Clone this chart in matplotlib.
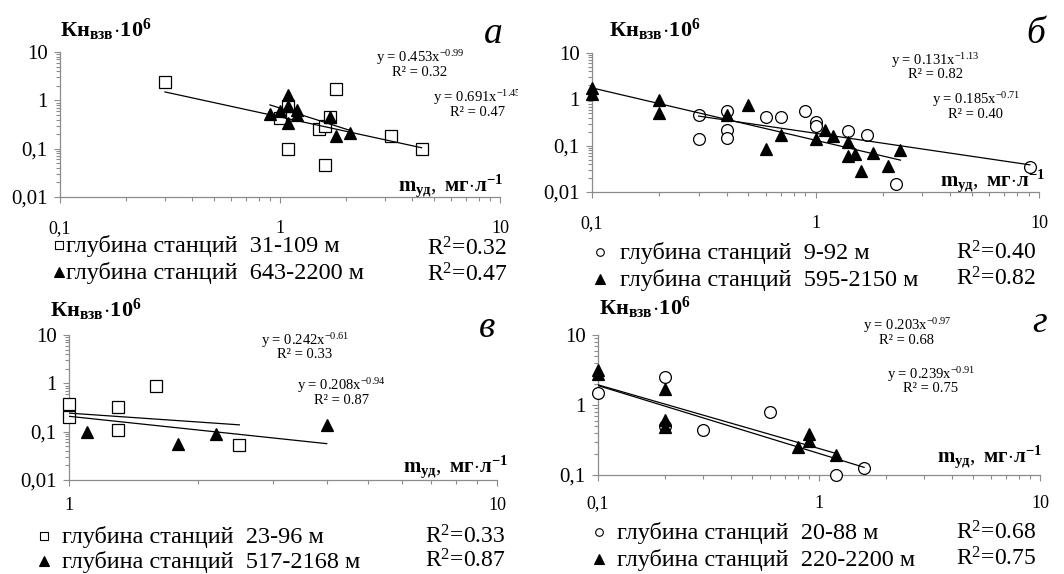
import numpy as np
import matplotlib
matplotlib.use('Agg')
import matplotlib.pyplot as plt
from matplotlib.ticker import FuncFormatter, NullFormatter, LogLocator
from matplotlib.lines import Line2D
from matplotlib.transforms import Bbox, TransformedBbox

plt.rcParams['font.family'] = ['Liberation Serif', 'DejaVu Serif']
plt.rcParams['mathtext.fontset'] = 'custom'
plt.rcParams['mathtext.rm'] = 'Liberation Serif'
plt.rcParams['mathtext.it'] = 'Liberation Serif:italic'
plt.rcParams['mathtext.bf'] = 'Liberation Serif:bold'

# --- данные ---
# а
sq_a_x = [0.3, 1.0, 1.09, 1.09, 1.5, 1.6, 1.69, 1.8, 1.6, 3.2, 4.4]
sq_a_y = [2.4, 0.43, 0.78, 0.10, 0.25, 0.30, 0.45, 1.7, 0.046, 0.18, 0.10]
tri_a_x = [0.9, 1.0, 1.09, 1.09, 1.09, 1.2, 1.2, 1.69, 1.8, 2.08]
tri_a_y = [0.51, 0.6, 1.3, 0.77, 0.34, 0.62, 0.5, 0.45, 0.18, 0.21]
# б
circ_b_x = [0.3, 0.3, 0.4, 0.4, 0.4, 0.6, 0.7, 0.9, 1.0, 1.0, 1.4, 1.7, 2.3, 9.1]
circ_b_y = [0.45, 0.14, 0.55, 0.22, 0.15, 0.42, 0.42, 0.55, 0.32, 0.27, 0.21, 0.17, 0.015, 0.034]
tri_b_x = [0.1, 0.1, 0.2, 0.2, 0.4, 0.5, 0.6, 0.7, 1.0, 1.1, 1.2, 1.4, 1.4, 1.5, 1.6, 1.8, 2.1, 2.4]
tri_b_y = [1.8, 1.3, 0.95, 0.5, 0.46, 0.75, 0.085, 0.17, 0.14, 0.22, 0.16, 0.12, 0.06, 0.065, 0.028, 0.07, 0.036, 0.08]
# в
sq_v_x = [1.0, 1.0, 1.3, 1.3, 1.6, 2.5]
sq_v_y = [0.38, 0.2, 0.33, 0.11, 0.9, 0.053]
tri_v_x = [1.1, 1.8, 2.2, 4.0]
tri_v_y = [0.1, 0.055, 0.09, 0.14]
# г
circ_g_x = [0.1, 0.2, 0.2, 0.3, 0.6, 1.2, 1.6]
circ_g_y = [1.5, 2.5, 0.5, 0.44, 0.8, 0.1, 0.125]
tri_g_x = [0.1, 0.1, 0.2, 0.2, 0.2, 0.8, 0.9, 0.9, 1.2]
tri_g_y = [3.2, 2.8, 1.7, 0.62, 0.48, 0.25, 0.39, 0.31, 0.19]

# степенные тренды y = a*x^b (коэффициенты с рисунка)
trend_a = [(0.453, -0.99), (0.691, -1.45)]
trend_b = [(0.185, -0.71), (0.131, -1.13)]
trend_v = [(0.242, -0.61), (0.208, -0.94)]
trend_g = [(0.203, -0.97), (0.239, -0.91)]
r2_a = ['0.32', '0.47']
r2_b = ['0.40', '0.82']
r2_v = ['0.33', '0.87']
r2_g = ['0.68', '0.75']
depth_a = ['31-109 м', '643-2200 м']
depth_b = ['9-92 м', '595-2150 м']
depth_v = ['23-96 м', '517-2168 м']
depth_g = ['20-88 м', '220-2200 м']

W, H = 1064, 574
fig = plt.figure(figsize=(W / 100, H / 100), dpi=100)
GRAY = '#8c8c8c'


def comma(v, pos=None):
    return ('%g' % v).replace('.', ',')


def ftext(x, y, s, **kw):
    return fig.text(x / W, 1 - y / H, s, **kw)


def panel(l, t, r, b, xlim, ylim, xpad):
    ax = fig.add_axes([l / W, 1 - b / H, (r - l) / W, (b - t) / H])
    ax.set_xscale('log')
    ax.set_yscale('log')
    ax.set_xlim(xlim)
    ax.set_ylim(ylim)
    ax.patch.set_alpha(0)
    for s in ['top', 'right']:
        ax.spines[s].set_visible(False)
    for s in ['left', 'bottom']:
        ax.spines[s].set_color(GRAY)
        ax.spines[s].set_linewidth(0.9)
    ax.tick_params(which='both', color=GRAY, direction='out', width=0.8)
    ax.tick_params(which='major', length=4)
    ax.tick_params(which='minor', length=3)
    ax.tick_params(axis='y', pad=5, labelsize=15)
    ax.tick_params(axis='x', pad=xpad, labelsize=13)
    ax.xaxis.set_major_formatter(FuncFormatter(comma))
    ax.yaxis.set_major_formatter(FuncFormatter(comma))
    ax.xaxis.set_minor_formatter(NullFormatter())
    ax.yaxis.set_minor_formatter(NullFormatter())
    ax.yaxis.set_minor_locator(LogLocator(subs=np.arange(2, 10)))
    return ax


def series(ax, x, y, marker, filled, trend, xr=None):
    ax.plot(x, y, ls='none', marker=marker, ms=8.5 if marker != 's' else 8,
            mfc='black' if filled else 'white', mec='black', mew=0.9,
            clip_on=False, zorder=3)
    a, p = trend
    xs = np.array(xr if xr else [min(x), max(x)])
    ax.plot(xs, a * xs ** p, color='black', lw=0.9, zorder=4)


def eq(x, y, ab, r2, clip=None):
    t1 = ftext(x, y, 'y = %.3fx$^{%.2f}$' % ab, ha='center', va='center', fontsize=10.5)
    t2 = ftext(x, y + 14, 'R² = %s' % r2, ha='center', va='center', fontsize=10.5)
    if clip:
        box = TransformedBbox(Bbox([[0, 0], [clip / W, 1]]), fig.transFigure)
        for t in (t1, t2):
            t.set_clip_box(box)
            t.set_clip_on(True)


def labels(ylx, yly, xlx, xly, letter, lx, lyy):
    ftext(ylx, yly, r'$\mathbf{Кн_{взв}\!\cdot\!10^{6}}$', fontsize=16, va='baseline')
    ftext(xlx, xly, r'$\mathbf{m_{уд}},\ \mathbf{мг\!\cdot\!л^{-1}}$', fontsize=15,
          ha='right', va='baseline')
    ftext(lx, lyy, letter, fontsize=27, style='italic', ha='center', va='baseline')


def legend(mx, tx, rx, y1, y2, m1, depths, r2s, rdy=0):
    for (mk, fill), yy, d, r in zip([m1, ('^', True)], [y1, y2], depths, r2s):
        fig.add_artist(Line2D([mx / W], [1 - (yy - 7) / H], marker=mk,
                              ms=6.5 if fill else 5.5,
                              mfc='black' if fill else 'white', mec='black', mew=0.8,
                              ls='none', transform=fig.transFigure))
        ftext(tx, yy, 'глубина станций  ' + d, fontsize=17.5, va='baseline')
        ftext(rx, yy + rdy, 'R$^{2}$=' + r, fontsize=17, va='baseline')


# а
ax = panel(60, 52, 500, 197, (0.1, 10), (0.01, 10), 12.5)
series(ax, sq_a_x, sq_a_y, 's', False, trend_a[0])
series(ax, tri_a_x, tri_a_y, '^', True, trend_a[1])
eq(420, 58, trend_a[0], r2_a[0])
eq(477, 98, trend_a[1], r2_a[1], clip=518)
labels(60, 37, 503, 191, 'а', 493, 43)
legend(58.5, 66, 427, 252, 279, ('s', False), depth_a, r2_a, rdy=3)

# б
ax = panel(592, 53, 1039, 192, (0.1, 10), (0.01, 10), 12.5)
series(ax, circ_b_x, circ_b_y, 'o', False, trend_b[0])
series(ax, tri_b_x, tri_b_y, '^', True, trend_b[1])
eq(935, 61, trend_b[1], r2_b[1])
eq(976, 100, trend_b[0], r2_b[0])
labels(609, 37, 1045, 186, 'б', 1036, 43)
legend(600, 620, 956, 259, 286, ('o', False), depth_b, r2_b)

# в
ax = panel(69, 335, 497, 480, (1, 10), (0.01, 10), 8)
series(ax, sq_v_x, sq_v_y, 's', False, trend_v[0])
series(ax, tri_v_x, tri_v_y, '^', True, trend_v[1], xr=[1.0, 4.0])
eq(305, 341, trend_v[0], r2_v[0])
eq(341, 386, trend_v[1], r2_v[1])
labels(50, 317, 508, 472, 'в', 487, 337)
legend(43.5, 62, 425, 543, 568, ('s', False), depth_v, r2_v)

# г
ax = panel(598, 335, 1040, 475, (0.1, 10), (0.1, 10), 10.5)
series(ax, circ_g_x, circ_g_y, 'o', False, trend_g[0])
series(ax, tri_g_x, tri_g_y, '^', True, trend_g[1])
eq(907, 326, trend_g[0], r2_g[0])
eq(931, 375, trend_g[1], r2_g[1])
labels(599, 315, 1042, 462, 'г', 1040, 332)
legend(599, 617, 956, 539, 566, ('o', False), depth_g, r2_g)

fig.savefig('out.png', dpi=100)
